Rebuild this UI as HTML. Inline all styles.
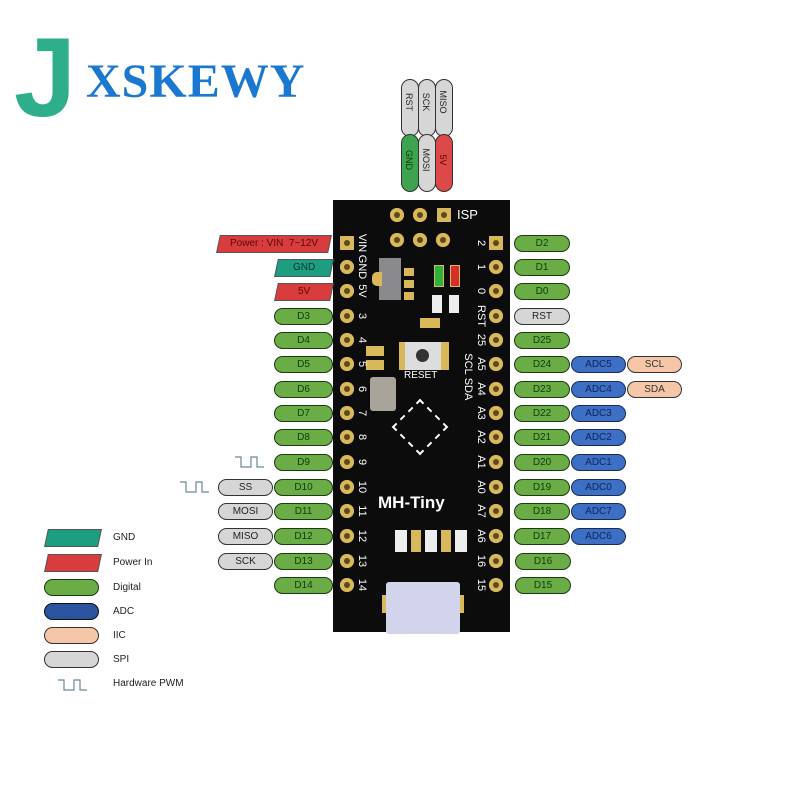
<!DOCTYPE html>
<html><head><meta charset="utf-8"><style>
body{margin:0;width:800px;height:800px;background:#fff;position:relative;overflow:hidden;font-family:"Liberation Sans",sans-serif}
.a{position:absolute}
.p{position:absolute;height:15px;border:1.5px solid #1d3a12;border-radius:9px;font-size:10px;line-height:15px;text-align:center;box-sizing:content-box}
.g{background:#6aac45;color:#123a0a}
.s{background:#d6d6d6;color:#222;border-color:#333}
.b{background:#3d6fc4;color:#10265a;border-color:#1a2a55}
.o{background:#f5c7a8;color:#333;border-color:#333}
.pin{position:absolute;width:14px;height:14px;border-radius:50%;background:#d9b85a;box-shadow:inset 0 0 0 4px #d9b85a}
.pin:after{content:"";position:absolute;left:4px;top:4px;width:6px;height:6px;border-radius:50%;background:#5a4a20}
.t{position:absolute;color:#fff;font-size:11px;transform:rotate(90deg);transform-origin:center;white-space:nowrap;text-align:center;width:30px;line-height:12px}
.lg{position:absolute;left:113px;font-size:10px;color:#222}
.par{position:absolute;height:16px;transform:skewX(-12deg);border:1px solid #555;font-size:10px;text-align:center;line-height:16px}
.par span{display:inline-block;transform:skewX(12deg)}
</style></head><body>
<!-- logo -->
<div class="a" style="left:14px;top:22px;font-family:'Liberation Sans',sans-serif;font-weight:bold;font-size:112px;color:#2fae8c;line-height:112px">J</div>
<div class="a" style="left:86px;top:58px;font-family:'Liberation Serif',serif;font-weight:bold;font-size:48px;color:#1a78d0;letter-spacing:1px;line-height:48px">XSKEWY</div>
<!-- ISP pills -->
<div class="a" style="left:401px;top:79px;width:16px;height:56px;background:#d6d6d6;border:1.5px solid #333;border-radius:9px"></div>
<div class="a" style="left:418px;top:79px;width:16px;height:56px;background:#d6d6d6;border:1.5px solid #333;border-radius:9px"></div>
<div class="a" style="left:435px;top:79px;width:16px;height:56px;background:#d6d6d6;border:1.5px solid #333;border-radius:9px"></div>
<div class="a" style="left:401px;top:134px;width:16px;height:56px;background:#3ea34e;border:1.5px solid #333;border-radius:9px"></div>
<div class="a" style="left:418px;top:134px;width:16px;height:56px;background:#d6d6d6;border:1.5px solid #333;border-radius:9px"></div>
<div class="a" style="left:435px;top:134px;width:16px;height:56px;background:#dd4848;border:1.5px solid #333;border-radius:9px"></div>
<div class="a" style="left:394px;top:97px;width:30px;font-size:9px;transform:rotate(90deg);text-align:center;color:#222">RST</div>
<div class="a" style="left:411px;top:97px;width:30px;font-size:9px;transform:rotate(90deg);text-align:center;color:#222">SCK</div>
<div class="a" style="left:428px;top:97px;width:30px;font-size:9px;transform:rotate(90deg);text-align:center;color:#222">MISO</div>
<div class="a" style="left:394px;top:155px;width:30px;font-size:9px;transform:rotate(90deg);text-align:center;color:#0b3a0b">GND</div>
<div class="a" style="left:411px;top:155px;width:30px;font-size:9px;transform:rotate(90deg);text-align:center;color:#222">MOSI</div>
<div class="a" style="left:428px;top:155px;width:30px;font-size:9px;transform:rotate(90deg);text-align:center;color:#5a0000">5V</div>
<!-- board -->
<div class="a" style="left:333px;top:200px;width:177px;height:432px;background:#0c0c0c"></div>
<div class="pin" style="left:390px;top:208px"></div><div class="pin" style="left:413px;top:208px"></div><div class="pin" style="left:437px;top:208px;border-radius:1px"></div>
<div class="pin" style="left:390px;top:233px"></div><div class="pin" style="left:413px;top:233px"></div><div class="pin" style="left:436px;top:233px"></div>
<div class="a" style="left:457px;top:207px;color:#fff;font-size:13px">ISP</div>
<div class="a" style="left:379px;top:258px;width:22px;height:42px;background:#8a8a8e"></div>
<div class="a" style="left:372px;top:272px;width:10px;height:14px;background:#d9b85a;border-radius:5px 0 0 5px"></div>
<div class="a" style="left:404px;top:268px;width:10px;height:8px;background:#d9b85a"></div>
<div class="a" style="left:404px;top:280px;width:10px;height:8px;background:#d9b85a"></div>
<div class="a" style="left:404px;top:292px;width:10px;height:8px;background:#d9b85a"></div>
<div class="a" style="left:434px;top:265px;width:8px;height:20px;background:#2db33a;border:1px solid #d9b85a"></div>
<div class="a" style="left:450px;top:265px;width:8px;height:20px;background:#d3302b;border:1px solid #d9b85a"></div>
<div class="a" style="left:432px;top:295px;width:10px;height:18px;background:#eee"></div>
<div class="a" style="left:449px;top:295px;width:10px;height:18px;background:#eee"></div>
<div class="a" style="left:420px;top:318px;width:20px;height:10px;background:#d9b85a"></div>
<div class="a" style="left:366px;top:346px;width:18px;height:10px;background:#d9b85a"></div>
<div class="a" style="left:366px;top:360px;width:18px;height:10px;background:#d9b85a"></div>
<div class="a" style="left:399px;top:342px;width:50px;height:28px;background:#d9b85a"></div>
<div class="a" style="left:405px;top:342px;width:36px;height:28px;background:#ddd"></div>
<div class="a" style="left:416px;top:349px;width:13px;height:13px;border-radius:50%;background:#333"></div>
<div class="a" style="left:404px;top:370px;color:#fff;font-size:10px">RESET</div>
<div class="a" style="left:370px;top:377px;width:26px;height:34px;background:#a9a49a;border-radius:3px"></div>
<div class="a" style="left:400px;top:407px;width:36px;height:36px;border:2px dashed #fff;transform:rotate(45deg)"></div>
<div class="a" style="left:378px;top:493px;color:#fff;font-weight:bold;font-size:17px">MH-Tiny</div>
<div class="a" style="left:395px;top:530px;width:12px;height:22px;background:#eee"></div>
<div class="a" style="left:411px;top:530px;width:10px;height:22px;background:#d9b85a"></div>
<div class="a" style="left:425px;top:530px;width:12px;height:22px;background:#eee"></div>
<div class="a" style="left:441px;top:530px;width:10px;height:22px;background:#d9b85a"></div>
<div class="a" style="left:455px;top:530px;width:12px;height:22px;background:#eee"></div>
<div class="a" style="left:382px;top:595px;width:8px;height:18px;background:#d9b85a"></div>
<div class="a" style="left:456px;top:595px;width:8px;height:18px;background:#d9b85a"></div>
<div class="a" style="left:386px;top:582px;width:74px;height:52px;background:#d2d4ec;border-radius:3px"></div>

<div class="pin" style="left:340px;top:236px;border-radius:1px"></div>
<div class="pin" style="left:340px;top:260px"></div><div class="pin" style="left:340px;top:284px"></div><div class="pin" style="left:340px;top:309px"></div>
<div class="pin" style="left:340px;top:333px"></div><div class="pin" style="left:340px;top:357px"></div><div class="pin" style="left:340px;top:382px"></div>
<div class="pin" style="left:340px;top:406px"></div><div class="pin" style="left:340px;top:430px"></div><div class="pin" style="left:340px;top:455px"></div>
<div class="pin" style="left:340px;top:480px"></div><div class="pin" style="left:340px;top:504px"></div><div class="pin" style="left:340px;top:529px"></div>
<div class="pin" style="left:340px;top:554px"></div><div class="pin" style="left:340px;top:578px"></div>
<div class="pin" style="left:489px;top:236px;border-radius:1px"></div>
<div class="pin" style="left:489px;top:260px"></div><div class="pin" style="left:489px;top:284px"></div><div class="pin" style="left:489px;top:309px"></div>
<div class="pin" style="left:489px;top:333px"></div><div class="pin" style="left:489px;top:357px"></div><div class="pin" style="left:489px;top:382px"></div>
<div class="pin" style="left:489px;top:406px"></div><div class="pin" style="left:489px;top:430px"></div><div class="pin" style="left:489px;top:455px"></div>
<div class="pin" style="left:489px;top:480px"></div><div class="pin" style="left:489px;top:504px"></div><div class="pin" style="left:489px;top:529px"></div>
<div class="pin" style="left:489px;top:554px"></div><div class="pin" style="left:489px;top:578px"></div>
<div class="t" style="left:347px;top:237px">VIN</div>
<div class="t" style="left:347px;top:261px">GND</div>
<div class="t" style="left:347px;top:285px">5V</div>
<div class="t" style="left:347px;top:310px">3</div>
<div class="t" style="left:347px;top:334px">4</div>
<div class="t" style="left:347px;top:358px">5</div>
<div class="t" style="left:347px;top:383px">6</div>
<div class="t" style="left:347px;top:407px">7</div>
<div class="t" style="left:347px;top:431px">8</div>
<div class="t" style="left:347px;top:456px">9</div>
<div class="t" style="left:347px;top:481px">10</div>
<div class="t" style="left:347px;top:505px">11</div>
<div class="t" style="left:347px;top:530px">12</div>
<div class="t" style="left:347px;top:555px">13</div>
<div class="t" style="left:347px;top:579px">14</div>
<div class="t" style="left:466px;top:237px">2</div>
<div class="t" style="left:466px;top:261px">1</div>
<div class="t" style="left:466px;top:285px">0</div>
<div class="t" style="left:466px;top:310px">RST</div>
<div class="t" style="left:466px;top:334px">25</div>
<div class="t" style="left:466px;top:358px">A5</div>
<div class="t" style="left:466px;top:383px">A4</div>
<div class="t" style="left:466px;top:407px">A3</div>
<div class="t" style="left:466px;top:431px">A2</div>
<div class="t" style="left:466px;top:456px">A1</div>
<div class="t" style="left:466px;top:481px">A0</div>
<div class="t" style="left:466px;top:505px">A7</div>
<div class="t" style="left:466px;top:530px">A6</div>
<div class="t" style="left:466px;top:555px">16</div>
<div class="t" style="left:466px;top:579px">15</div>
<div class="t" style="left:453px;top:358px">SCL</div>
<div class="t" style="left:453px;top:383px">SDA</div>

<div class="par" style="left:218px;top:235px;width:110px;background:#d83c3c;color:#5a0a0a"><span>Power : VIN &nbsp;7~12V</span></div>
<div class="par" style="left:276px;top:259px;width:54px;background:#1e9e80;color:#063a2a"><span>GND</span></div>
<div class="par" style="left:276px;top:283px;width:54px;background:#d83c3c;color:#5a0a0a"><span>5V</span></div>
<div class="p g" style="left:274px;top:308px;width:57px">D3</div>
<div class="p g" style="left:274px;top:332px;width:57px">D4</div>
<div class="p g" style="left:274px;top:356px;width:57px">D5</div>
<div class="p g" style="left:274px;top:381px;width:57px">D6</div>
<div class="p g" style="left:274px;top:405px;width:57px">D7</div>
<div class="p g" style="left:274px;top:429px;width:57px">D8</div>
<div class="p g" style="left:274px;top:454px;width:57px">D9</div>
<div class="p g" style="left:274px;top:479px;width:57px">D10</div>
<div class="p g" style="left:274px;top:503px;width:57px">D11</div>
<div class="p g" style="left:274px;top:528px;width:57px">D12</div>
<div class="p g" style="left:274px;top:553px;width:57px">D13</div>
<div class="p g" style="left:274px;top:577px;width:57px">D14</div>
<div class="p s" style="left:218px;top:479px;width:53px">SS</div>
<div class="p s" style="left:218px;top:503px;width:53px">MOSI</div>
<div class="p s" style="left:218px;top:528px;width:53px">MISO</div>
<div class="p s" style="left:218px;top:553px;width:53px">SCK</div>
<svg class="a" style="left:0;top:0" width="800" height="800"><g fill="none" stroke="#6b8894" stroke-width="1.2">
<path d="M235 457h6v10h10v-10h6v10h7"/><path d="M180 482h6v10h10v-10h6v10h7"/><path d="M58 680h6v10h10v-10h6v10h7"/></g></svg>

<div class="p g" style="left:514px;top:235px;width:54px">D2</div>
<div class="p g" style="left:514px;top:259px;width:54px">D1</div>
<div class="p g" style="left:514px;top:283px;width:54px">D0</div>
<div class="p s" style="left:514px;top:308px;width:54px">RST</div>
<div class="p g" style="left:514px;top:332px;width:54px">D25</div>
<div class="p g" style="left:514px;top:356px;width:54px">D24</div>
<div class="p g" style="left:514px;top:381px;width:54px">D23</div>
<div class="p g" style="left:514px;top:405px;width:54px">D22</div>
<div class="p g" style="left:514px;top:429px;width:54px">D21</div>
<div class="p g" style="left:514px;top:454px;width:54px">D20</div>
<div class="p g" style="left:514px;top:479px;width:54px">D19</div>
<div class="p g" style="left:514px;top:503px;width:54px">D18</div>
<div class="p g" style="left:514px;top:528px;width:54px">D17</div>
<div class="p g" style="left:515px;top:553px;width:54px">D16</div>
<div class="p g" style="left:515px;top:577px;width:54px">D15</div>
<div class="p b" style="left:571px;top:356px;width:53px">ADC5</div>
<div class="p b" style="left:571px;top:381px;width:53px">ADC4</div>
<div class="p b" style="left:571px;top:405px;width:53px">ADC3</div>
<div class="p b" style="left:571px;top:429px;width:53px">ADC2</div>
<div class="p b" style="left:571px;top:454px;width:53px">ADC1</div>
<div class="p b" style="left:571px;top:479px;width:53px">ADC0</div>
<div class="p b" style="left:571px;top:503px;width:53px">ADC7</div>
<div class="p b" style="left:571px;top:528px;width:53px">ADC6</div>
<div class="p o" style="left:627px;top:356px;width:53px">SCL</div>
<div class="p o" style="left:627px;top:381px;width:53px">SDA</div>

<div class="par" style="left:46px;top:529px;width:52px;background:#1e9e80"></div>
<div class="par" style="left:46px;top:554px;width:52px;background:#d83c3c"></div>
<div class="p" style="left:44px;top:579px;width:53px;background:#6aac45"></div>
<div class="p" style="left:44px;top:603px;width:53px;background:#2a54a0;border-color:#111"></div>
<div class="p" style="left:44px;top:627px;width:53px;background:#f5c7a8;border-color:#333"></div>
<div class="p" style="left:44px;top:651px;width:53px;background:#d6d6d6;border-color:#333"></div>
<div class="lg" style="top:532px">GND</div>
<div class="lg" style="top:557px">Power In</div>
<div class="lg" style="top:582px">Digital</div>
<div class="lg" style="top:606px">ADC</div>
<div class="lg" style="top:630px">IIC</div>
<div class="lg" style="top:654px">SPI</div>
<div class="lg" style="top:678px">Hardware PWM</div>
</body></html>
